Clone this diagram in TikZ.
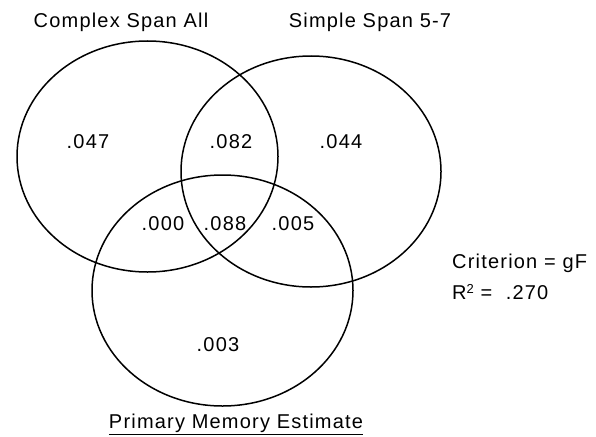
\documentclass[tikz,border=0pt]{standalone}
\usepackage{fontspec}
\setmainfont{Liberation Sans}[LetterSpace=6]
\begin{document}
\begin{tikzpicture}[x=1pt,y=-1pt,
  setline/.style={draw=black, line width=1.5pt},
  lbl/.style={inner sep=0pt, font=\fontsize{20}{24}\selectfont},
  num/.style={lbl}]
\useasboundingbox (0,0) rectangle (596,436);
% sets
\draw[setline] (147.5,156.5) ellipse [x radius=130.5pt, y radius=115.5pt];
\draw[setline] (311,171.5) ellipse [x radius=130pt, y radius=115.5pt];
\draw[setline] (222.5,290.5) ellipse [x radius=130.5pt, y radius=115.5pt];
% titles
\node[lbl] (tA) at (121,22) {Complex Span All};
\node[lbl] (tB) at (370,22) {Simple Span 5-7};
\node[lbl] (tC) at (236,424) {\underline{Primary Memory Estimate}};
% region values
\node[num] (a) at (88,142) {.047};
\node[num] (ab) at (231,142) {.082};
\node[num] (b) at (341,142) {.044};
\node[num] (ac) at (163,224) {.000};
\node[num] (abc) at (225,224) {.088};
\node[num] (bc) at (293,224) {.005};
\node[num] (c) at (218,345) {.003};
% criterion
\node[lbl, anchor=west] (crit) at (452,263) {Criterion = gF};
\node[lbl, anchor=west] (r2) at (452,292) {R\raisebox{0.33em}{\fontsize{13}{13}\selectfont 2} =\ \ .270};
\end{tikzpicture}
\end{document}
